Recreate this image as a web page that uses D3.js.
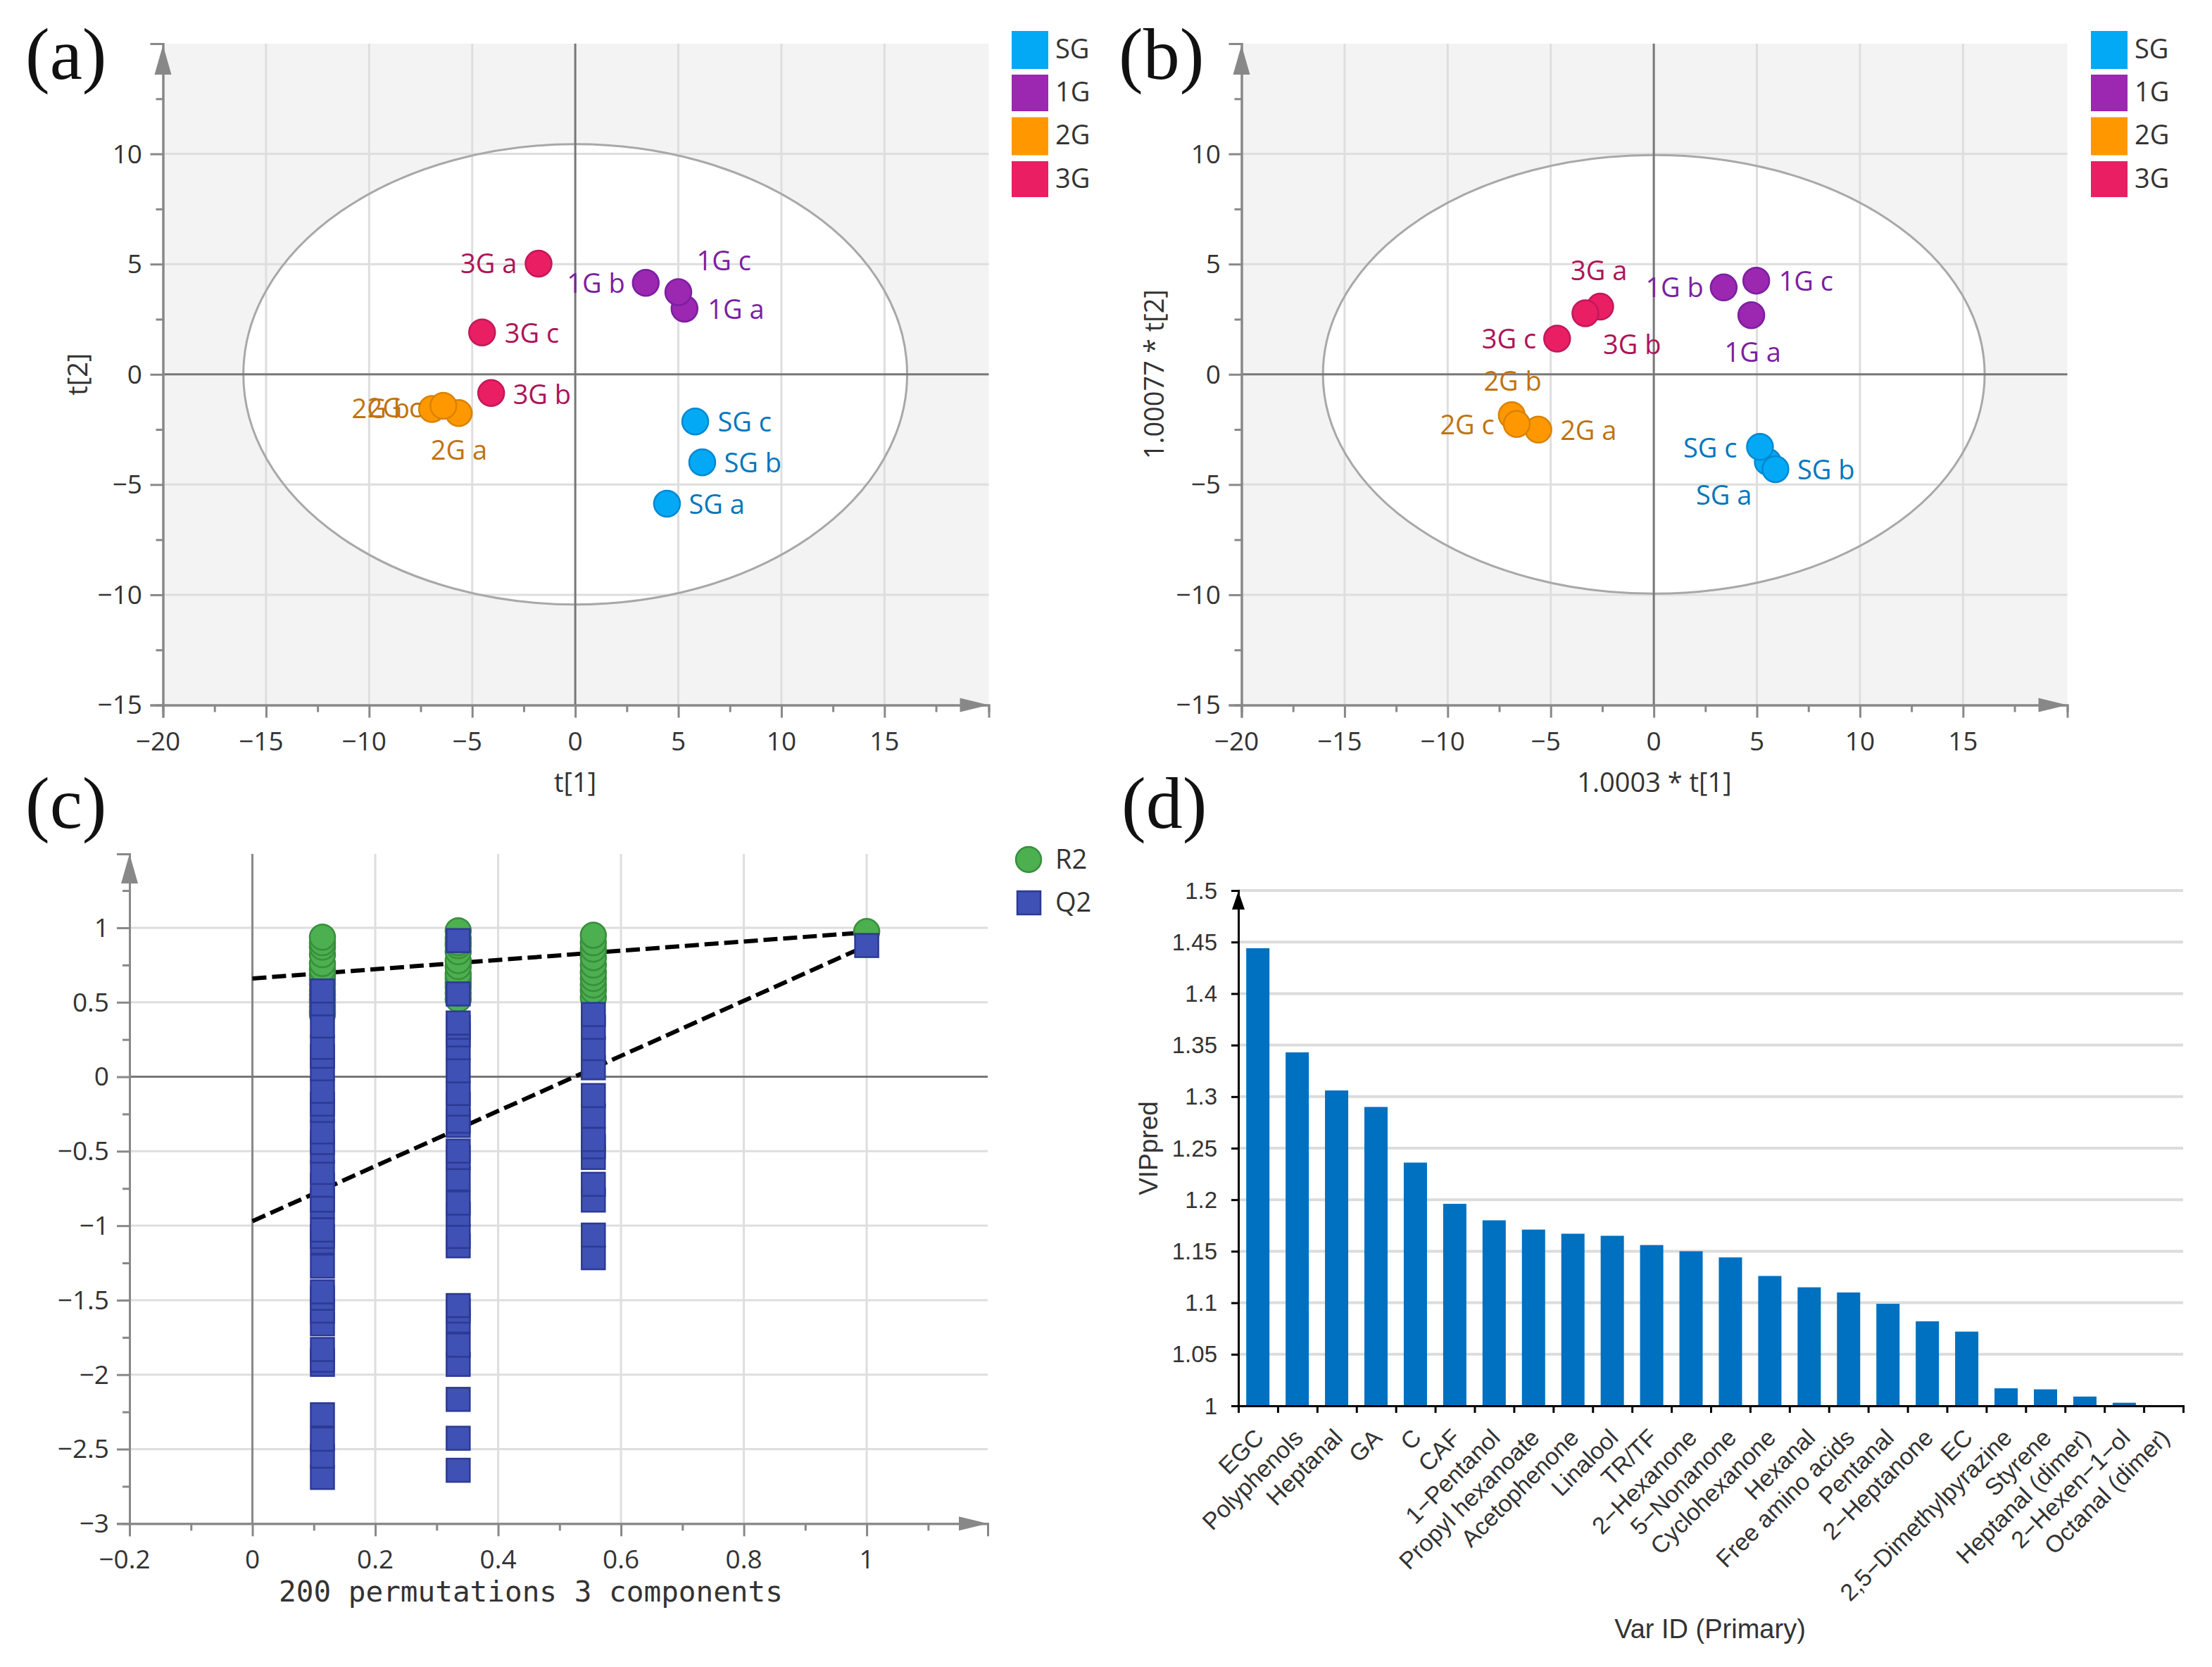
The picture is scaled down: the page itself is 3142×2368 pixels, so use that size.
<!DOCTYPE html>
<html><head><meta charset="utf-8">
<style>html,body{margin:0;padding:0;background:#fff}svg{display:block}</style>
<script src="https://cdn.jsdelivr.net/npm/d3@7"></script></head>
<body><svg id="c" width="3142" height="2368" xmlns="http://www.w3.org/2000/svg"></svg>
<script>
// ---------- data ----------
const groups = ["SG","1G","2G","3G"];
const sampleNames = ["SG a","SG b","SG c","1G a","1G b","1G c","2G a","2G b","2G c","3G a","3G b","3G c"];
const scoreAx = [4.45,6.16,5.82,5.3,3.42,5.0,-5.65,-6.95,-6.4,-1.78,-4.08,-4.52];
const scoreAy = [-5.87,-3.99,-2.14,2.98,4.15,3.73,-1.76,-1.57,-1.43,5.02,-0.85,1.9];
const scoreBx = [5.53,5.9,5.15,4.73,3.39,4.97,-5.6,-6.89,-6.65,-2.6,-3.32,-4.69];
const scoreBy = [-3.97,-4.3,-3.29,2.68,3.94,4.25,-2.51,-1.85,-2.25,3.07,2.77,1.62];
const ellipseA = [16.1,10.44];
const ellipseB = [16.05,9.95];
const scoreXTicks = [-20,-15,-10,-5,0,5,10,15];
const scoreYTicks = [-15,-10,-5,0,5,10];

const permX = [0.114,0.335,0.555,1];
const r2Col = [
 [0.937,0.9,0.87,0.82,0.76,0.72,0.68,0.65,0.62,0.58,0.55,0.52,0.5,0.47,0.44,0.42],
 [0.98,0.93,0.9,0.88,0.84,0.78,0.74,0.69,0.66,0.63,0.6,0.56,0.52],
 [0.95,0.9,0.857,0.8,0.75,0.7,0.66,0.616,0.58,0.53],
 [0.975]];
const q2Col = [
 [0.576,0.49,0.341,0.198,0.138,0.054,-0.097,-0.183,-0.226,-0.37,-0.441,-0.499,-0.642,-0.728,-0.828,-0.871,-1.029,-1.072,-1.109,-1.272,-1.444,-1.487,-1.573,-1.659,-1.831,-1.903,-1.931,-2.269,-2.433,-2.547,-2.69],
 [0.914,0.556,0.361,0.332,0.281,0.195,0.04,-0.112,-0.183,-0.298,-0.327,-0.499,-0.542,-0.685,-0.848,-0.923,-1.072,-1.135,-1.536,-1.573,-1.639,-1.802,-1.931,-2.166,-2.427,-2.642],
 [0.418,0.332,0.189,0.06,-0.126,-0.264,-0.421,-0.47,-0.542,-0.722,-0.828,-1.063,-1.215],
 [0.881]];
const r2Line = [[0,0.66],[1,0.97]];
const q2Line = [[0,-0.97],[1,0.88]];
const permXTicks = [-0.2,0,0.2,0.4,0.6,0.8,1];
const permYTicks = [-3,-2.5,-2,-1.5,-1,-0.5,0,0.5,1];

const vipNames = ["EGC","Polyphenols","Heptanal","GA","C","CAF","1−Pentanol","Propyl hexanoate","Acetophenone","Linalool","TR/TF","2−Hexanone","5−Nonanone","Cyclohexanone","Hexanal","Free amino acids","Pentanal","2−Heptanone","EC","2,5−Dimethylpyrazine","Styrene","Heptanal (dimer)","2−Hexen−1−ol","Octanal (dimer)"];
const vipValues = [1.444,1.343,1.306,1.29,1.236,1.196,1.18,1.171,1.167,1.165,1.156,1.15,1.144,1.126,1.115,1.11,1.099,1.082,1.072,1.017,1.016,1.009,1.003,1.0005];
const vipTicks = [1,1.05,1.1,1.15,1.2,1.25,1.3,1.35,1.4,1.45,1.5];

// ---------- layout / style ----------
const fill = {SG:"#03A9F4","1G":"#9C27B0","2G":"#FF9800","3G":"#E91E63"};
const edge = {SG:"#0288D1","1G":"#7B1FA2","2G":"#D98200","3G":"#C2185B"};
const ink  = {SG:"#0277BD","1G":"#7B1FA2","2G":"#BF7310","3G":"#AD1457"};
const labelA = [[31,1],[31,1],[32,1],[33,1],[-112,1],[26,-44],[-40,53],[-114,0],[-108,3],[-111,0],[31,2],[32,1]];
const labelB = [[-102,48],[31,1],[-109,2],[-38,53],[-111,0],[32,1],[31,1],[-40,-48],[-109,1],[-42,-51],[25,45],[-107,1]];
const UI = "'Open Sans'", TXT = "#333", AX = "#888", GRID = "#dedede";
const svg = d3.select("#c");
const num = v => String(v).replace("-", "−");

function text(g,x,y,s,o={}){
  return g.append("text").attr("x",x).attr("y",y).attr("dy","0.35em").text(s)
    .attr("font-family",o.font||UI).attr("font-size",o.size||38).attr("fill",o.fill||TXT)
    .attr("text-anchor",o.anchor||"middle").attr("transform",o.rot?`rotate(${o.rot} ${x} ${y})`:null);
}
function hline(g,x1,x2,y,c,w){g.append("line").attr("x1",x1).attr("x2",x2).attr("y1",y).attr("y2",y).attr("stroke",c).attr("stroke-width",w);}
function vline(g,x,y1,y2,c,w){g.append("line").attr("x1",x).attr("x2",x).attr("y1",y1).attr("y2",y2).attr("stroke",c).attr("stroke-width",w);}
function arrows(g,x0,x1,y0,y1){
  g.append("path").attr("d",`M${x0} ${y1}l-12 42h24z`).attr("fill",AX);
  g.append("path").attr("d",`M${x1} ${y0}l-41 -10v20z`).attr("fill",AX);
}
function axes(g,x,y,xt,yt,xmin,ymin){
  const [x0]=x.range(), [y0]=y.range();
  const ax=g.append("g").attr("transform",`translate(0,${y0})`).call(d3.axisBottom(x).tickValues(xt).tickSize(18).tickFormat(""));
  const ax2=g.append("g").attr("transform",`translate(0,${y0})`).call(d3.axisBottom(x).tickValues(xmin).tickSize(10).tickFormat(""));
  const ay=g.append("g").attr("transform",`translate(${x0},0)`).call(d3.axisLeft(y).tickValues(yt).tickSize(18).tickFormat(""));
  const ay2=g.append("g").attr("transform",`translate(${x0},0)`).call(d3.axisLeft(y).tickValues(ymin).tickSize(10).tickFormat(""));
  [ax,ax2,ay,ay2].forEach(a=>{a.selectAll("path").attr("stroke",AX).attr("stroke-width",3);a.selectAll("line").attr("stroke",AX).attr("stroke-width",3);});
}

function scorePanel(ox,xs,ys,ell,labels,xTitle,yTitle,xTitleX,yTitleX,legX,tickRight){
  const g=svg.append("g");
  const W=1173;
  const x=d3.scaleLinear().domain([-20,20.06]).range([ox,ox+W]);
  const y=d3.scaleLinear().domain([-15,15]).range([1001.5,62]);
  g.append("rect").attr("x",x(-20)).attr("y",62).attr("width",W).attr("height",939.5).attr("fill","#f3f3f3");
  g.append("ellipse").attr("cx",x(0)).attr("cy",y(0)).attr("rx",x(ell[0])-x(0)).attr("ry",y(0)-y(ell[1])).attr("fill","#fff");
  scoreXTicks.filter(v=>v!==0&&v!==-20).forEach(v=>vline(g,x(v),62,1001.5,GRID,3));
  scoreYTicks.filter(v=>v!==0&&v!==-15).forEach(v=>hline(g,x(-20),ox+W,y(v),GRID,3));
  g.append("ellipse").attr("cx",x(0)).attr("cy",y(0)).attr("rx",x(ell[0])-x(0)).attr("ry",y(0)-y(ell[1])).attr("fill","none").attr("stroke","#a8a8a8").attr("stroke-width",3);
  vline(g,x(0),62,1001.5,"#777",3); hline(g,x(-20),ox+W,y(0),"#777",3);
  axes(g,x,y,scoreXTicks,scoreYTicks,d3.range(-17.5,20,5),d3.range(-12.5,15,5));
  arrows(g,x(-20),ox+W,1001.5,64);
  scoreXTicks.forEach(v=>text(g,x(v)-(v<0?7:0),1053,num(v),{size:37}));
  scoreYTicks.forEach(v=>text(g,tickRight,y(v),num(v),{size:37,anchor:"end"}));
  text(g,xTitleX,1112,xTitle,{size:38});
  text(g,yTitleX,y(0),yTitle,{size:38,rot:-90});
  sampleNames.forEach((n,i)=>{
    const k=n.slice(0,2);
    g.append("circle").attr("cx",x(xs[i])).attr("cy",y(ys[i])).attr("r",18.5).attr("fill",fill[k]).attr("stroke",edge[k]).attr("stroke-width",2.5);
  });
  sampleNames.forEach((n,i)=>{
    const k=n.slice(0,2);
    text(g,x(xs[i])+labels[i][0],y(ys[i])+labels[i][1],n,{size:38,fill:ink[k],anchor:"start"});
  });
  const lt=[44,106,166.5,229], lh=[54,52,54,51], lc=[70,131,192,254];
  groups.forEach((n,i)=>{
    g.append("rect").attr("x",legX).attr("y",lt[i]).attr("width",52).attr("height",lh[i]).attr("fill",fill[n]);
    text(g,legX+62,lc[i],n,{size:38,anchor:"start"});
  });
}
scorePanel(231.5,scoreAx,scoreAy,ellipseA,labelA,"t[1]","t[2]",817,111,1437,202);
scorePanel(1763.5,scoreBx,scoreBy,ellipseB,labelB,"1.0003 * t[1]","1.00077 * t[2]",2350,1640,2970,1734);

// panel c
(function(){
  const g=svg.append("g");
  const x=d3.scaleLinear().domain([-0.2,1.197]).range([184,1403]);
  const y=d3.scaleLinear().domain([-3,1.496]).range([2164.3,1213]);
  permXTicks.filter(v=>v>0).forEach(v=>vline(g,x(v),1213,2164,GRID,3));
  permYTicks.filter(v=>v!==0&&v!==-3).forEach(v=>hline(g,x(-0.2),1403,y(v),GRID,3));
  vline(g,x(0),1213,2164,"#888",3); hline(g,x(-0.2),1403,y(0),"#777",3);
  axes(g,x,y,permXTicks,permYTicks,d3.range(-0.1,1.15,0.2),d3.range(-2.75,1.4,0.5));
  arrows(g,x(-0.2),1403,2164.3,1213);
  const ln=d3.line().x(d=>x(d[0])).y(d=>y(d[1]));
  [r2Line,q2Line].forEach(d=>g.append("path").attr("d",ln(d)).attr("fill","none").attr("stroke","#000").attr("stroke-width",6).attr("stroke-dasharray","20 8"));
  r2Col.forEach((col,i)=>col.slice().reverse().forEach(v=>{
    g.append("circle").attr("cx",x(permX[i])).attr("cy",y(v)).attr("r",18).attr("fill","#4CAF50").attr("stroke","#388E3C").attr("stroke-width",2.5);
  }));
  q2Col.forEach((col,i)=>col.slice().reverse().forEach(v=>{
    g.append("rect").attr("x",x(permX[i])-16.5).attr("y",y(v)-16.5).attr("width",33).attr("height",33).attr("fill","#3F51B5").attr("stroke","#2C3A94").attr("stroke-width",2.5);
  }));
  permXTicks.forEach(v=>text(g,x(v)-(v<0?7:0),2215,num(v),{size:37}));
  permYTicks.forEach(v=>text(g,155,y(v),num(v),{size:37,anchor:"end"}));
  text(g,754,2261,"200 permutations 3 components",{font:"'DejaVu Sans Mono'",size:41});
  g.append("circle").attr("cx",1461).attr("cy",1221).attr("r",18).attr("fill","#4CAF50").attr("stroke","#388E3C").attr("stroke-width",2.5);
  text(g,1499,1221,"R2",{size:38,anchor:"start"});
  g.append("rect").attr("x",1445).attr("y",1266).attr("width",33).attr("height",33).attr("fill","#3F51B5").attr("stroke","#2C3A94").attr("stroke-width",2.5);
  text(g,1499,1282,"Q2",{size:38,anchor:"start"});
})();

// panel d
(function(){
  const g=svg.append("g");
  const AR="'Liberation Sans'";
  const x=d3.scaleBand().domain(vipNames).range([1759,3101]).paddingInner(0.41).paddingOuter(0.2);
  const y=d3.scaleLinear().domain([1,1.5]).range([1997,1265]);
  vipTicks.filter(v=>v>1).forEach(v=>hline(g,1759,3101,y(v),"#dcdcdc",4));
  g.selectAll(".bar").data(vipNames).join("rect").attr("x",d=>x(d)).attr("width",x.bandwidth())
    .attr("y",(d,i)=>y(vipValues[i])).attr("height",(d,i)=>y(1)-y(vipValues[i])).attr("fill","#0070C0");
  const ax=g.append("g").attr("transform","translate(0,1997)")
    .call(d3.axisBottom(d3.scaleLinear().domain([0,24]).range([1759,3101])).tickValues(d3.range(0,25)).tickSize(10).tickFormat(""));
  ax.selectAll("path,line").attr("stroke","#000").attr("stroke-width",3);
  const ay=g.append("g").attr("transform","translate(1759,0)")
    .call(d3.axisLeft(y).tickValues(vipTicks).tickSize(10).tickFormat(""));
  ay.selectAll("path,line").attr("stroke","#000").attr("stroke-width",3);
  g.append("path").attr("d",`M1759 1266l-9 26h18z`).attr("fill","#000");
  vipTicks.forEach(v=>text(g,1729,y(v),String(v),{font:AR,size:33,anchor:"end",fill:"#333"}));
  vipNames.forEach(n=>{
    const cx=x(n)+x.bandwidth()/2+2, cy=2036;
    g.append("text").attr("transform",`translate(${cx},${cy}) rotate(-45)`).attr("text-anchor","end").attr("dy","0.35em")
      .attr("font-family",AR).attr("font-size",34).attr("fill","#333").text(n);
  });
  text(g,1631,1631,"VIPpred",{font:AR,size:37,rot:-90,fill:"#333"});
  text(g,2429,2314,"Var ID (Primary)",{font:AR,size:38,fill:"#333"});
})();

// panel letters
const letters=[["(a)",36,76],["(b)",1589,76],["(c)",36,1140],["(d)",1593,1140]];
letters.forEach(l=>text(svg,l[1],l[2],l[0],{font:"'Liberation Serif'",size:104,fill:"#111",anchor:"start"}));
</script></body></html>
